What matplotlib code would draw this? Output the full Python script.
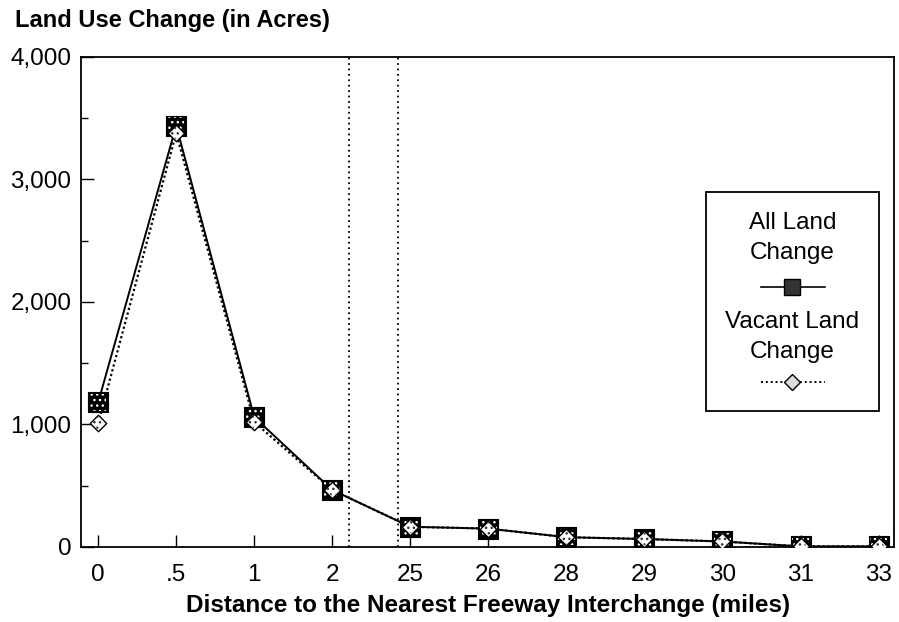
import matplotlib
matplotlib.use('Agg')
import matplotlib.pyplot as plt
from matplotlib.lines import Line2D
from matplotlib.patches import Rectangle
from matplotlib.ticker import FuncFormatter, MultipleLocator

plt.rcParams['font.family'] = ['Liberation Sans', 'DejaVu Sans']
plt.rcParams['hatch.linewidth'] = 1.0

# distance categories (miles) and acres changed
categories = ['0', '.5', '1', '2', '25', '26', '28', '29', '30', '31', '33']
all_land = [1180, 3440, 1060, 465, 165, 150, 80, 65, 45, 5, 5]
vacant_land = [1010, 3380, 1020, 465, 165, 150, 80, 65, 45, 5, 5]
# dotted separators between the near and far groups (category index units)
separators = [3.21, 3.84]

x = list(range(len(categories)))

fig = plt.figure(figsize=(8.99, 6.22), dpi=100)
ax = fig.add_axes([0.0901, 0.1206, 0.9045, 0.7878])

for xs in separators:
    ax.axvline(xs, color='black', lw=1.3, ls=(0, (1, 2)), zorder=1)

ax.plot(x, all_land, color='black', lw=1.4, zorder=2)
ax.plot(x, vacant_land, color='black', lw=1.6, ls=(0, (1, 1.2)), zorder=2)

# square markers: dark fill with white speckle
ax.scatter(x, all_land, marker='s', s=190, facecolor='black',
           edgecolor='black', linewidths=0.8, zorder=3)
ax.scatter(x, all_land, marker='s', s=140, facecolor='none',
           edgecolor='white', hatch='...', linewidths=0, zorder=4)
# diamond markers: light fill with dark speckle
ax.scatter(x, vacant_land, marker='D', s=70, facecolor='white',
           edgecolor='black', linewidths=1.0, zorder=5)
ax.scatter(x, vacant_land, marker='D', s=45, facecolor='none',
           edgecolor='#333333', hatch='...', linewidths=0, zorder=6)

ax.set_xlim(-0.22, 10.2)
ax.set_ylim(0, 4000)
ax.set_xticks(x)
ax.set_xticklabels(categories)
ax.yaxis.set_major_locator(MultipleLocator(1000))
ax.yaxis.set_minor_locator(MultipleLocator(500))
ax.yaxis.set_major_formatter(FuncFormatter(lambda v, p: f'{int(v):,}'))

ax.tick_params(axis='both', which='major', direction='in', length=9,
               width=1.0, labelsize=17.5)
ax.tick_params(axis='y', which='major', pad=7)
ax.tick_params(axis='x', which='major', pad=12)
ax.tick_params(axis='y', which='minor', direction='in', length=5, width=1.0)
for sp in ax.spines.values():
    sp.set_linewidth(1.3)

ax.set_xlabel('Distance to the Nearest Freeway Interchange (miles)',
              fontsize=17.5, fontweight='bold', labelpad=6)
fig.text(0.017, 1 - 21 / 622, 'Land Use Change (in Acres)', fontsize=17,
         fontweight='bold', va='center', ha='left')

# legend box drawn by hand: labels stacked above their line samples
ax.add_patch(Rectangle((0.769, 0.2776), 0.2126, 0.4469, transform=ax.transAxes,
                       facecolor='white', edgecolor='black', lw=1.3, zorder=7))
cx = 0.8747
for label, yy in [('All Land', 0.661), ('Change', 0.600),
                  ('Vacant Land', 0.459), ('Change', 0.398)]:
    ax.text(cx, yy, label, transform=ax.transAxes, ha='center', va='center',
            fontsize=17.5, zorder=8)
ax.add_line(Line2D([0.8366, 0.915], [0.531, 0.531], transform=ax.transAxes,
                   color='black', lw=1.2, zorder=8))
ax.add_line(Line2D([cx], [0.531], transform=ax.transAxes, marker='s',
                   markersize=11, markerfacecolor='#333333',
                   markeredgecolor='black', zorder=9))
ax.add_line(Line2D([0.8366, 0.915], [0.337, 0.337], transform=ax.transAxes,
                   color='black', lw=1.4, ls=(0, (1, 1.5)), zorder=8))
ax.add_line(Line2D([cx], [0.337], transform=ax.transAxes, marker='D',
                   markersize=8, markerfacecolor='#dddddd',
                   markeredgecolor='black', zorder=9))

fig.savefig('out.png', dpi=100)
